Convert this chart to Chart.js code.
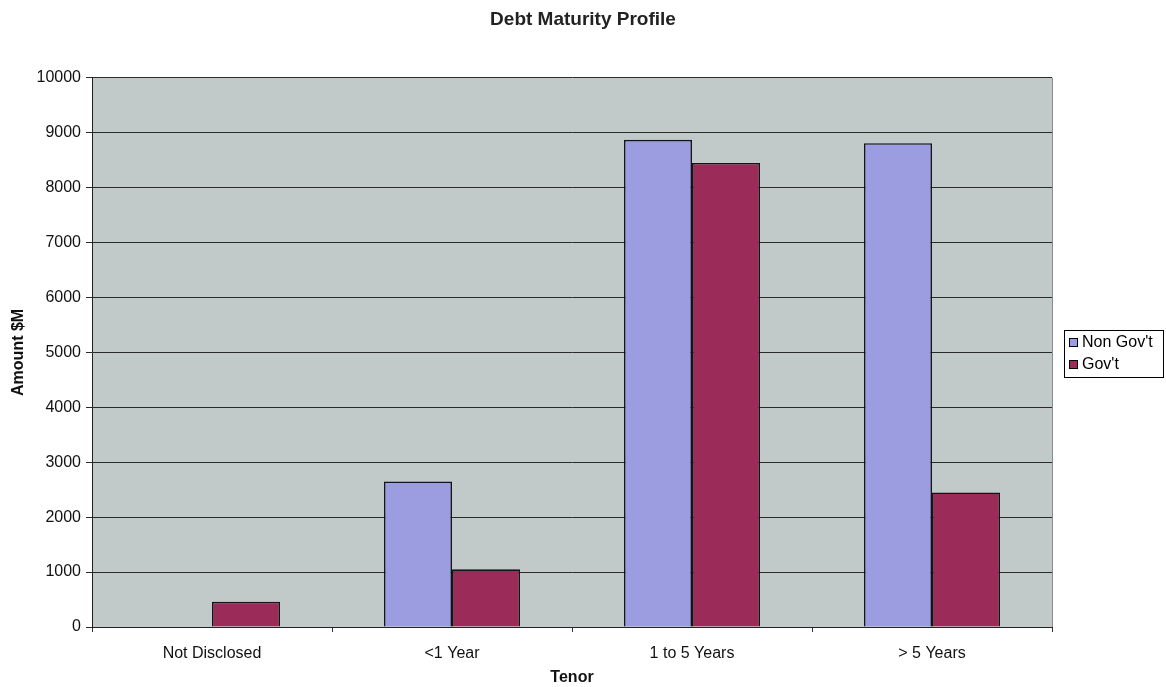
<!DOCTYPE html>
<html>
<head>
<meta charset="utf-8">
<title>Debt Maturity Profile</title>
<script src="https://cdn.jsdelivr.net/npm/chart.js@4.4.1/dist/chart.umd.min.js"></script>
<style>
    html, body { margin: 0; padding: 0; background: #ffffff; }
    #wrap { width: 1166px; height: 687px; position: relative; }
</style>
</head>
<body>
<div id="wrap"><canvas id="myChartDebt"></canvas></div>
<script>
// categorias e valores ($M)
const tenorLabels = ['Not Disclosed', '<1 Year', '1 to 5 Years', '> 5 Years'];
const nonGovValues = [0, 2650, 8870, 8810];
const govValues = [460, 1050, 8450, 2450];
const seriesNames = ["Non Gov't", "Gov't"];
const yTicks = [0, 1000, 2000, 3000, 4000, 5000, 6000, 7000, 8000, 9000, 10000];

const corNonGov = '#9c9ce0';
const corGov = '#9b2c5a';
const fundoPlot = '#c2cac9';
const fonte = 'Arial, "Liberation Sans", sans-serif';

// fundo cinza da area do grafico + borda direita
const plotBg = {
    id: 'plotBg',
    beforeDraw(chart) {
        const { ctx, chartArea: a } = chart;
        ctx.save();
        ctx.fillStyle = fundoPlot;
        ctx.fillRect(a.left, a.top, a.right - a.left, a.bottom - a.top);
        ctx.restore();
    },
    afterDraw(chart) {
        const { ctx, chartArea: a } = chart;
        ctx.save();
        ctx.strokeStyle = '#8a8a8a';
        ctx.lineWidth = 1;
        ctx.beginPath();
        ctx.moveTo(a.right + 0.5, a.top);
        ctx.lineTo(a.right + 0.5, a.bottom);
        ctx.stroke();
        ctx.restore();
    }
};

// legenda com caixa, desenhada a mao
const boxLegend = {
    id: 'boxLegend',
    afterDraw(chart) {
        const ctx = chart.ctx;
        const x = 1064, y = 330, w = 99, h = 47;
        ctx.save();
        ctx.fillStyle = '#ffffff';
        ctx.fillRect(x, y, w, h);
        ctx.strokeStyle = '#000000';
        ctx.lineWidth = 1;
        ctx.strokeRect(x + 0.5, y + 0.5, w, h);
        ctx.font = '16px ' + fonte;
        ctx.textBaseline = 'middle';
        chart.data.datasets.forEach((ds, i) => {
            const cy = y + 12 + i * 22;
            ctx.fillStyle = ds.backgroundColor;
            ctx.fillRect(x + 5, cy - 4, 9, 9);
            ctx.strokeStyle = '#000000';
            ctx.strokeRect(x + 5.5, cy - 3.5, 8, 8);
            ctx.fillStyle = '#000000';
            ctx.fillText(ds.label, x + 18, cy + 1);
        });
        ctx.restore();
    }
};

const ctxDebt = document.getElementById('myChartDebt');
const dataDebt = {
    labels: tenorLabels,
    datasets: [{
        label: seriesNames[0],
        data: nonGovValues,
        backgroundColor: corNonGov,
        borderColor: '#141420',
        borderWidth: 1.6,
        categoryPercentage: 0.567,
        barPercentage: 1.0
    }, {
        label: seriesNames[1],
        data: govValues,
        backgroundColor: corGov,
        borderColor: '#141414',
        borderWidth: 1.6,
        categoryPercentage: 0.567,
        barPercentage: 1.0
    }]
};

const configDebt = {
    type: 'bar',
    data: dataDebt,
    options: {
        responsive: true,
        maintainAspectRatio: false,
        animation: false,
        layout: { padding: { left: 0, right: 0, top: 0, bottom: 0 } },
        plugins: {
            legend: { display: false },
            tooltip: { enabled: false },
            title: {
                display: true,
                text: 'Debt Maturity Profile',
                color: '#222222',
                font: { family: fonte, size: 19, weight: 'bold' },
                padding: { top: 8, bottom: 47 }
            }
        },
        scales: {
            x: {
                grid: { drawOnChartArea: false, drawTicks: true, tickLength: 5, color: '#333333', offset: true },
                border: { color: '#222222', width: 1 },
                ticks: {
                    color: '#111111',
                    padding: 12,
                    maxRotation: 0,
                    font: { family: fonte, size: 16 }
                },
                title: {
                    display: true,
                    text: 'Tenor',
                    color: '#111111',
                    padding: { top: 2, bottom: 0 },
                    font: { family: fonte, size: 16, weight: 'bold' }
                },
                afterFit(scale) { scale.height = 60; }
            },
            y: {
                min: 0,
                max: 10000,
                afterBuildTicks(scale) { scale.ticks = yTicks.map(v => ({ value: v })); },
                grid: { color: '#2a2a2a', lineWidth: 1, tickLength: 6, drawTicks: true },
                border: { color: '#222222', width: 1 },
                ticks: {
                    color: '#111111',
                    padding: 5,
                    font: { family: fonte, size: 16 },
                    callback: v => String(v)
                },
                title: {
                    display: true,
                    text: 'Amount $M',
                    color: '#111111',
                    padding: { top: 9, bottom: 0 },
                    font: { family: fonte, size: 16, weight: 'bold' }
                },
                afterFit(scale) { scale.width = 92; }
            },
            // eixo vazio so para reservar espaco da legenda
            espaco: {
                type: 'linear',
                position: 'right',
                display: true,
                grid: { display: false },
                border: { display: false },
                ticks: { display: false },
                afterFit(scale) { scale.width = 114; }
            }
        }
    },
    plugins: [plotBg, boxLegend]
};

new Chart(ctxDebt, configDebt);
</script>
</body>
</html>
